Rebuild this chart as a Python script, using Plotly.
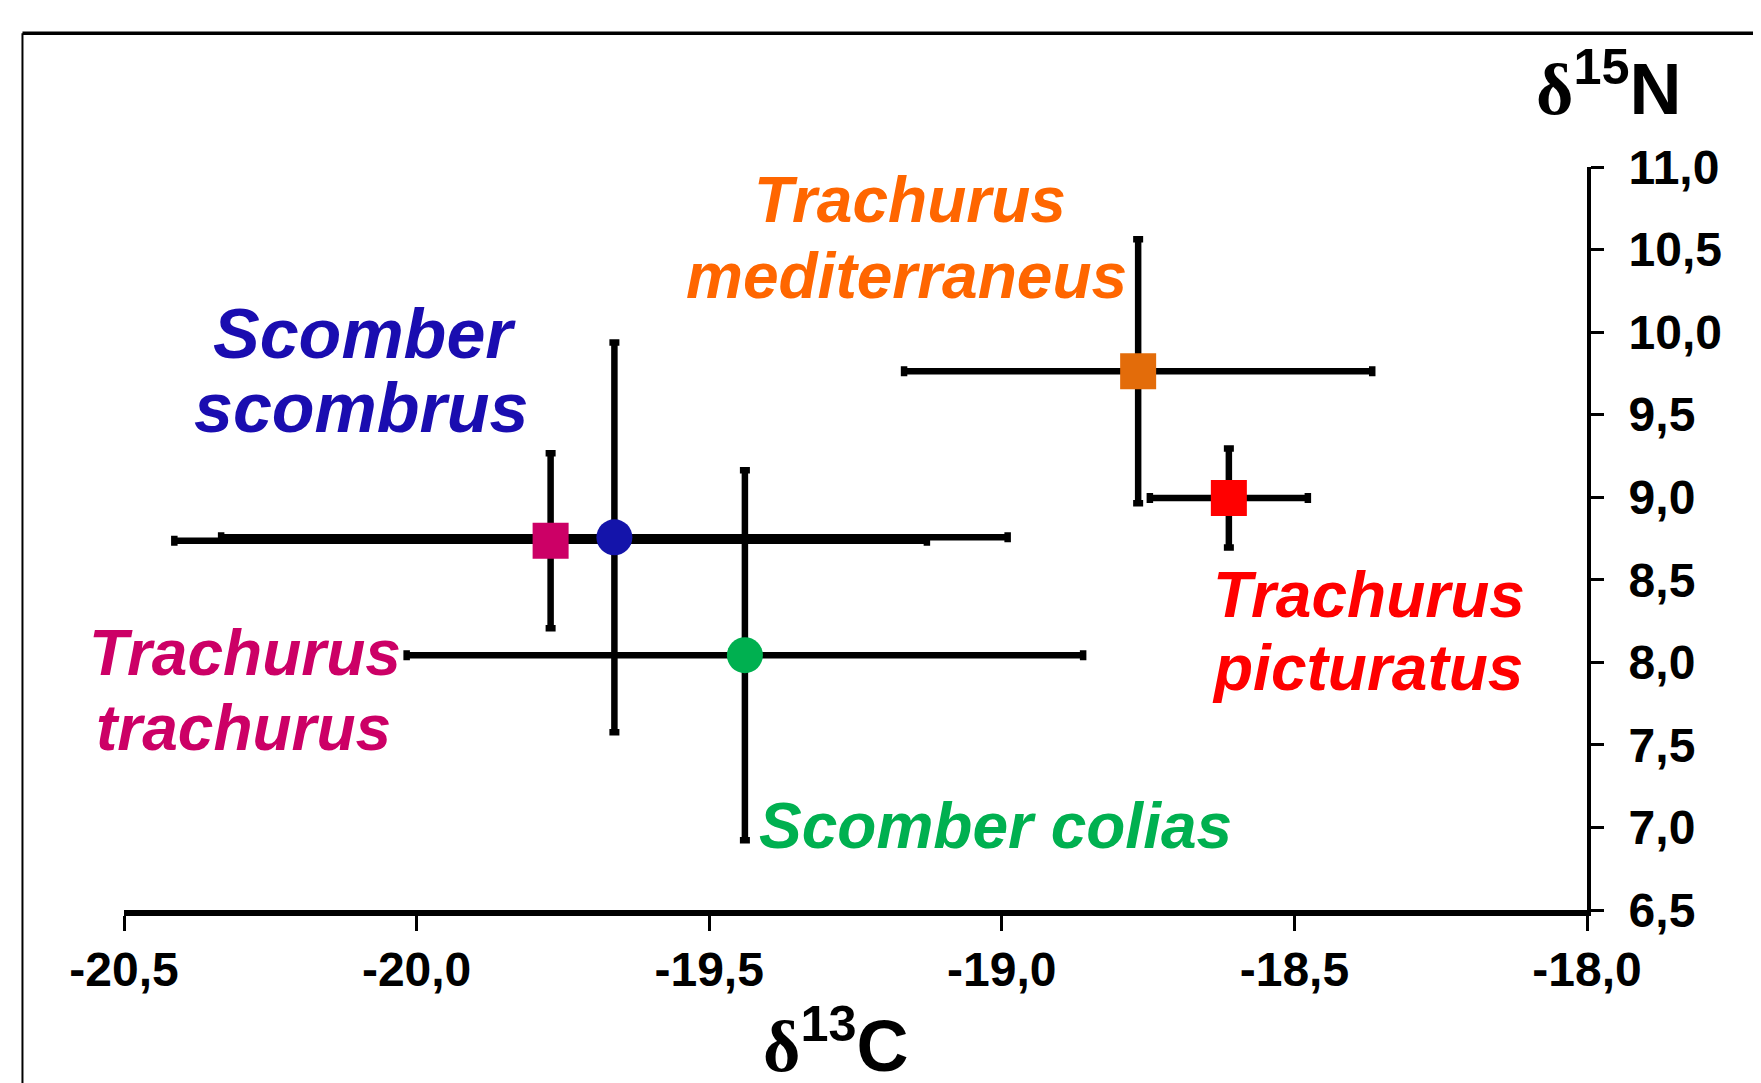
import plotly.graph_objects as go

# ---- data ----
species = ["Trachurus mediterraneus", "Trachurus picturatus", "Scomber scombrus",
           "Trachurus trachurus", "Scomber colias"]
d13C = [-18.767, -18.612, -19.662, -19.771, -19.439]
d13C_sd = [0.40, 0.135, 0.672, 0.643, 0.578]
d15N = [9.763, 8.995, 8.757, 8.736, 8.043]
d15N_sd = [0.80, 0.30, 1.18, 0.53, 1.12]
label_lines = [["Trachurus", "mediterraneus"], ["Trachurus", "picturatus"], ["Scomber", "scombrus"],
               ["Trachurus", "trachurus"], ["Scomber colias"]]
x_ticks = [-20.5, -20.0, -19.5, -19.0, -18.5, -18.0]
y_ticks = [6.5, 7.0, 7.5, 8.0, 8.5, 9.0, 9.5, 10.0, 10.5, 11.0]
x_ticklabels = ["-20,5", "-20,0", "-19,5", "-19,0", "-18,5", "-18,0"]
y_ticklabels = ["6,5", "7,0", "7,5", "8,0", "8,5", "9,0", "9,5", "10,0", "10,5", "11,0"]

# ---- styles / label placement ----
marker_colors = ["#E36C0A", "#FF0000", "#1414AA", "#CC0066", "#00B050"]
marker_symbols = ["square", "square", "circle", "square", "circle"]
text_colors = ["#FF6600", "#FF0000", "#1A0DB0", "#CC0066", "#00B050"]
label_sizes = [64, 64, 70, 64, 64]
label_line_pos = [
    [(-19.1565, 10.802), (-19.1624, 10.342)],
    [(-18.3724, 8.4097), (-18.3759, 7.9657)],
    [(-20.0892, 9.987), (-20.0943, 9.542)],
    [(-20.2924, 8.0565), (-20.2959, 7.602)],
    [(-19.0113, 7.007)],
]
FONT = "Arial, 'Liberation Sans', sans-serif"
SERIF = "Times New Roman, Liberation Serif, serif"

fig = go.Figure()

# error bars first (so markers sit on top)
for i in range(len(species)):
    fig.add_trace(go.Scatter(
        x=[d13C[i]], y=[d15N[i]], mode="markers",
        marker=dict(size=1, color="rgba(0,0,0,0)"),
        error_x=dict(type="data", array=[d13C_sd[i]], color="black", thickness=6.5, width=5),
        error_y=dict(type="data", array=[d15N_sd[i]], color="black", thickness=6.5, width=5),
        showlegend=False, hoverinfo="skip"))

for i in range(len(species)):
    fig.add_trace(go.Scatter(
        x=[d13C[i]], y=[d15N[i]], mode="markers", name=species[i],
        marker=dict(size=36, symbol=marker_symbols[i], color=marker_colors[i], line=dict(width=0)),
        showlegend=False))

annotations = []
for i in range(len(species)):
    for line, (lx, ly) in zip(label_lines[i], label_line_pos[i]):
        annotations.append(dict(
            x=lx, y=ly, xref="x", yref="y",
            text="<b><i>" + line + "</i></b>", showarrow=False,
            xanchor="center", yanchor="middle", align="center",
            font=dict(family=FONT, size=label_sizes[i], color=text_colors[i])))

annotations.append(dict(x=1.015, y=1.1117, xref="paper", yref="paper",
                        text="<b><span style='font-family:" + SERIF + "'>δ</span><sup>15</sup>N</b>",
                        showarrow=False, xanchor="center", yanchor="middle",
                        font=dict(family=FONT, size=72, color="black")))
annotations.append(dict(x=0.4865, y=-0.1763, xref="paper", yref="paper",
                        text="<b><span style='font-family:" + SERIF + "'>δ</span><sup>13</sup>C</b>",
                        showarrow=False, xanchor="center", yanchor="middle",
                        font=dict(family=FONT, size=72, color="black")))

shapes = [
    dict(type="line", xref="paper", yref="paper", x0=-0.0694, x1=1.3, y0=1.180, y1=1.180,
         line=dict(color="black", width=3.5)),
    dict(type="line", xref="paper", yref="paper", x0=-0.0694, x1=-0.0694, y0=1.180, y1=-0.4,
         line=dict(color="black", width=2)),
]

fig.update_layout(
    width=1761, height=1083,
    margin=dict(l=115.5, r=182, t=159, b=181, pad=0),
    paper_bgcolor="white", plot_bgcolor="white",
    separators=", ",
    annotations=annotations, shapes=shapes,
    font=dict(family=FONT, color="black"),
    xaxis=dict(range=[-20.5, -18.0], tickvals=x_ticks,
               ticktext=["<b>" + t + "</b>" for t in x_ticklabels],
               showgrid=False, zeroline=False, showline=True, linecolor="black", linewidth=6,
               ticks="outside", ticklen=15, tickwidth=3, tickcolor="black",
               tickfont=dict(family=FONT, size=48, color="black"),
               ticklabelstandoff=-3),
    yaxis=dict(range=[6.5, 11.0], tickvals=y_ticks,
               ticktext=["<b>" + t + "</b>" for t in y_ticklabels], side="right",
               showgrid=False, zeroline=False, showline=True, linecolor="black", linewidth=4,
               ticks="outside", ticklen=13, tickwidth=3, tickcolor="black",
               tickfont=dict(family=FONT, size=48, color="black"),
               ticklabelstandoff=15),
)

fig.write_html("out.html")
